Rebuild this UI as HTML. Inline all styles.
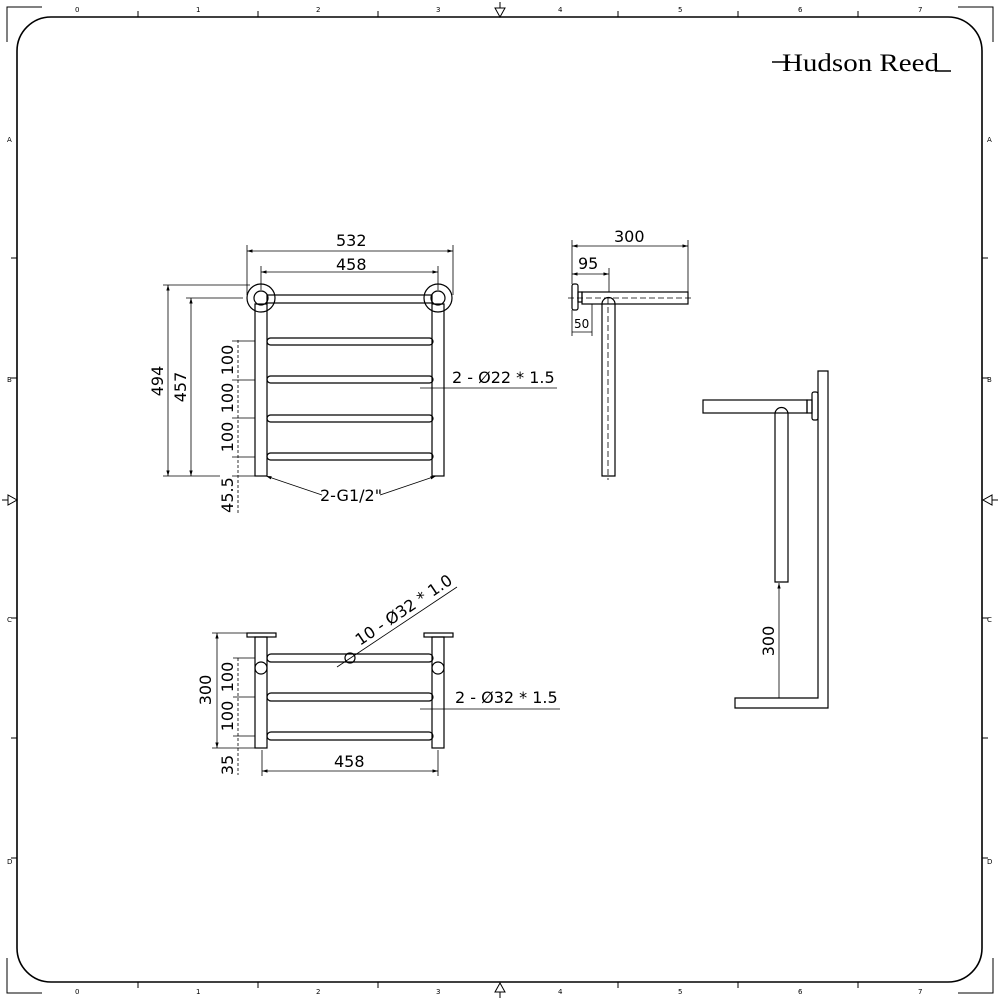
<!DOCTYPE html>
<html><head><meta charset="utf-8"><style>
html,body{margin:0;padding:0;background:#fff}
svg{display:block}
text{font-family:"DejaVu Sans","Liberation Sans",sans-serif;fill:#000}
</style></head><body>
<svg width="1000" height="1000" viewBox="0 0 1000 1000" xmlns="http://www.w3.org/2000/svg">
<defs>
<marker id="a" viewBox="0 0 10 10" refX="10" refY="5" markerWidth="7" markerHeight="7" orient="auto-start-reverse"><path d="M0,2 L10,5 L0,8z" fill="#000"/></marker>
</defs>
<g fill="none" stroke="#000">
<rect x="17" y="17" width="965" height="965" rx="34" stroke-width="1.6"/>
<path d="M7,42 V7 H42 M958,7 H993 V42 M7,958 V993 H42 M958,993 H993 V958" stroke-width="1"/>
<path d="M138,17 v-6 M258,17 v-6 M378,17 v-6 M618,17 v-6 M738,17 v-6 M858,17 v-6 M138,982 v6 M258,982 v6 M378,982 v6 M618,982 v6 M738,982 v6 M858,982 v6 M17,258 h-6 M17,378 h-6 M17,618 h-6 M17,738 h-6 M17,858 h-6 M982,258 h6 M982,378 h6 M982,618 h6 M982,738 h6 M982,858 h6" stroke-width="1"/>
<path d="M495,8 L505,8 L500,17z M500,2 V8 M495,992 L505,992 L500,983z M500,998 V992 M8,495 L8,505 L17,500z M2,500 H8 M992,495 L992,505 L983,500z M998,500 H992" stroke-width="1"/>
</g>
<g font-size="7" font-family="Liberation Sans">
<text x="75" y="12">0</text><text x="196" y="12">1</text><text x="316" y="12">2</text><text x="436" y="12">3</text><text x="558" y="12">4</text><text x="678" y="12">5</text><text x="798" y="12">6</text><text x="918" y="12">7</text>
<text x="75" y="994">0</text><text x="196" y="994">1</text><text x="316" y="994">2</text><text x="436" y="994">3</text><text x="558" y="994">4</text><text x="678" y="994">5</text><text x="798" y="994">6</text><text x="918" y="994">7</text>
<text x="7" y="142">A</text><text x="7" y="382">B</text><text x="7" y="622">C</text><text x="7" y="864">D</text>
<text x="987" y="142">A</text><text x="987" y="382">B</text><text x="987" y="622">C</text><text x="987" y="864">D</text>
</g>
<text x="782" y="71" font-size="25" textLength="157" lengthAdjust="spacingAndGlyphs" style="font-family:'Liberation Serif',serif">Hudson Reed</text>
<path d="M772,62 H790 M935,71 H951" stroke="#000" stroke-width="1.5"/>

<g fill="none" stroke="#000" stroke-width="1.2">
<circle cx="261" cy="298" r="14"/><circle cx="261" cy="298" r="7"/>
<circle cx="438" cy="298" r="14"/><circle cx="438" cy="298" r="7"/>
<rect x="255" y="304" width="12" height="172"/>
<rect x="432" y="304" width="12" height="172"/>
<rect x="267" y="295" width="165" height="8"/>
<rect x="267" y="338" width="166" height="7" rx="3.5"/>
<rect x="267" y="376" width="166" height="7" rx="3.5"/>
<rect x="267" y="415" width="166" height="7" rx="3.5"/>
<rect x="267" y="453" width="166" height="7" rx="3.5"/>
</g>
<g stroke="#000" stroke-width="0.8" fill="none">
<path d="M247,295 V245 M453,295 V245 M261,290 V266 M438,290 V266"/>
<line x1="247" y1="251" x2="453" y2="251" marker-start="url(#a)" marker-end="url(#a)"/>
<line x1="261" y1="272" x2="438" y2="272" marker-start="url(#a)" marker-end="url(#a)"/>
<path d="M163,285 H250 M186,298 H243 M163,476 H220 M186,476 H220 M232,341 H255 M232,380 H255 M232,418 H255 M232,457 H255 M232,476 H255"/>
<line x1="168" y1="285" x2="168" y2="476" marker-start="url(#a)" marker-end="url(#a)"/>
<line x1="191" y1="298" x2="191" y2="476" marker-start="url(#a)" marker-end="url(#a)"/>
<path d="M238,340 V513" stroke-dasharray="3,2"/>
<path d="M420,388 H557"/>
<line x1="322" y1="495" x2="266" y2="476" marker-end="url(#a)"/>
<line x1="380" y1="495" x2="436" y2="476" marker-end="url(#a)"/>
</g>
<g font-size="16">
<text x="336" y="246">532</text>
<text x="336" y="270">458</text>
<text x="452" y="383">2 - Ø22 * 1.5</text>
<text x="320" y="501">2-G1/2"</text>
<text transform="translate(163,381) rotate(-90)" text-anchor="middle">494</text>
<text transform="translate(186,387) rotate(-90)" text-anchor="middle">457</text>
<text transform="translate(233,360) rotate(-90)" text-anchor="middle">100</text>
<text transform="translate(233,398) rotate(-90)" text-anchor="middle">100</text>
<text transform="translate(233,437) rotate(-90)" text-anchor="middle">100</text>
<text transform="translate(233,495) rotate(-90)" text-anchor="middle">45.5</text>
</g>

<g fill="none" stroke="#000" stroke-width="1.2">
<rect x="247" y="633" width="29" height="4"/><rect x="424" y="633" width="29" height="4"/>
<rect x="255" y="637" width="12" height="111"/><rect x="432" y="637" width="12" height="111"/>
<circle cx="261" cy="668" r="6"/><circle cx="438" cy="668" r="6"/>
<rect x="267" y="654" width="166" height="8" rx="4"/>
<rect x="267" y="693" width="166" height="8" rx="4"/>
<rect x="267" y="732" width="166" height="8" rx="4"/>
<circle cx="350" cy="658" r="5"/>
</g>
<g stroke="#000" stroke-width="0.8" fill="none">
<path d="M212,633 H250 M212,748 H255 M233,658 H255 M233,697 H255 M233,736 H255 M262,750 V776 M438,750 V776"/>
<line x1="217" y1="633" x2="217" y2="748" marker-start="url(#a)" marker-end="url(#a)"/>
<path d="M238,658 V775" stroke-dasharray="3,2"/>
<line x1="262" y1="771" x2="438" y2="771" marker-start="url(#a)" marker-end="url(#a)"/>
<path d="M337,667 L457,587"/>
<path d="M420,709 H560"/>
</g>
<g font-size="16">
<text x="334" y="767">458</text>
<text x="455" y="703">2 - Ø32 * 1.5</text>
<text transform="translate(360,646) rotate(-34)">10 - Ø32 * 1.0</text>
<text transform="translate(211,690) rotate(-90)" text-anchor="middle">300</text>
<text transform="translate(233,677) rotate(-90)" text-anchor="middle">100</text>
<text transform="translate(233,716) rotate(-90)" text-anchor="middle">100</text>
<text transform="translate(233,765) rotate(-90)" text-anchor="middle">35</text>
</g>

<g fill="none" stroke="#000" stroke-width="1.2">
<rect x="572" y="284" width="6" height="26" rx="2"/>
<rect x="578" y="292" width="4" height="10"/>
<rect x="582" y="292" width="106" height="12"/>
<path d="M602,476 V304 A6.5,6.5 0 0 1 615,304 V476 Z"/>
</g>
<g stroke="#000" stroke-width="0.8" fill="none">
<path d="M572,240 V284 M688,240 V292 M609,268 V292 M592,304 V336 M572,310 V336"/>
<line x1="572" y1="246" x2="688" y2="246" marker-start="url(#a)" marker-end="url(#a)"/>
<line x1="572" y1="274" x2="609" y2="274" marker-start="url(#a)" marker-end="url(#a)"/>
<line x1="572" y1="332" x2="592" y2="332"/>
<path d="M568,298 H693 M608,298 V480" stroke-dasharray="6,3"/>
</g>
<g>
<text x="614" y="242" font-size="16">300</text>
<text x="578" y="269" font-size="16">95</text>
<text x="574" y="328" font-size="12">50</text>
</g>

<g fill="none" stroke="#000" stroke-width="1.2">
<path d="M818,371 H828 V708 H735 V698 H818 Z"/>
<rect x="812" y="392" width="6" height="28" rx="2"/>
<rect x="807" y="400" width="5" height="13"/>
<rect x="703" y="400" width="104" height="13"/>
<path d="M775,582 V414 A6.5,6.5 0 0 1 788,414 V582 Z"/>
</g>
<g stroke="#000" stroke-width="0.8" fill="none">
<line x1="779" y1="583" x2="779" y2="698" marker-start="url(#a)"/>
<path d="M796,413 H806" stroke-dasharray="3,2"/>
</g>
<text transform="translate(774,641) rotate(-90)" text-anchor="middle" font-size="16">300</text>
</svg>
</body></html>
